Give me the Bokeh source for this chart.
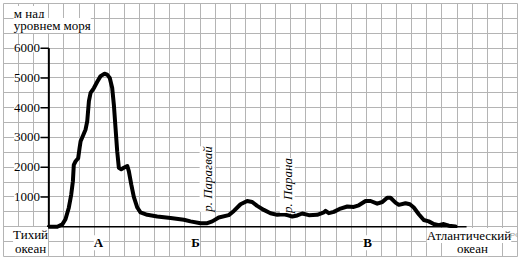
from bokeh.plotting import figure
from bokeh.models import Range1d, FixedTicker, Label, ColumnDataSource
from bokeh.embed import file_html
from bokeh.resources import INLINE

# profile: distance (grid cells from the axis) and height (m above sea level)
dist = [0.00, 0.56, 0.89, 1.10, 1.32, 1.48, 1.59, 1.65, 1.77, 1.94, 2.03, 2.10, 2.25, 2.43,
        2.54, 2.65, 2.76, 2.98, 3.20, 3.42, 3.68, 3.86, 4.03, 4.19, 4.30, 4.41, 4.52, 4.63,
        4.79, 4.96, 5.19, 5.29, 5.45, 5.62, 5.85, 6.06, 6.51, 7.17, 8.05, 8.93, 9.37, 10.03,
        10.48, 10.81, 11.24, 11.90, 12.24, 12.68, 13.12, 13.45, 13.78, 14.22, 14.66, 15.11,
        15.54, 15.77, 16.10, 16.43, 16.76, 17.20, 17.75, 18.19, 18.30, 18.52, 18.85, 19.29,
        19.74, 20.17, 20.50, 20.95, 21.28, 21.72, 22.06, 22.38, 22.60, 22.93, 23.15, 23.59,
        23.88, 24.14, 24.47, 24.80, 25.13, 25.46, 25.79, 26.12, 26.46, 26.90]
height = [0, 0, 80, 250, 640, 1080, 1530, 2080, 2200, 2300, 2640, 2870, 3050, 3270,
          3550, 4220, 4500, 4660, 4870, 5060, 5140, 5110, 5000, 4660, 4100, 3320, 2540, 1980,
          1930, 1980, 2040, 1870, 1420, 1000, 645, 480, 400, 345, 290, 235, 180, 120,
          120, 180, 310, 390, 530, 755, 865, 830, 700, 565, 455, 400,
          420, 390, 345, 380, 445, 390, 400, 480, 535, 455, 500, 610,
          680, 665, 720, 865, 865, 775, 830, 975, 975, 810, 735, 790,
          755, 645, 420, 225, 180, 90, 55, 90, 35, 10]

tick_values = [1000, 2000, 3000, 4000, 5000, 6000]
tick_labels = ["1000", "2000", "3000", "4000", "5000", "6000"]

region_labels = ["А", "Б", "В"]
region_x = [3.28, 9.70, 21.08]

river_labels = ["р. Парагвай", "р. Парана"]
river_x = [10.47, 15.77]
river_y = [1603, 1385]

baseline_end = 27.63

p = figure(width=523, height=262, output_backend="svg", toolbar_location=None,
           x_range=Range1d(-3, 31), y_range=Range1d(-1000, 7500),
           min_border_left=3, min_border_right=6, min_border_top=3, min_border_bottom=6)
p.axis.visible = False
p.background_fill_color = "white"
p.border_fill_color = "white"
p.outline_line_color = "#b4b4b4"
p.outline_line_width = 1
p.xgrid.ticker = FixedTicker(ticks=list(range(-3, 32)))
p.ygrid.ticker = FixedTicker(ticks=list(range(-1000, 7501, 500)))
for g in (p.xgrid, p.ygrid):
    g.grid_line_color = "#b4b4b4"
    g.grid_line_width = 1
    g.grid_line_alpha = 1.0

# axes drawn by hand
p.segment(x0=[0], y0=[0], x1=[0], y1=[tick_values[-1]], line_color="black", line_width=2)
p.segment(x0=[0], y0=[0], x1=[baseline_end], y1=[0], line_color="black", line_width=1.5)
p.segment(x0=[-0.55] * len(tick_values), y0=tick_values, x1=[0] * len(tick_values),
          y1=tick_values, line_color="black", line_width=1.5)

serif = "Liberation Serif"

def lab(x, y, text, size="13px", align="left", style="normal", color="black",
        font=serif, angle=0, bg="white"):
    p.add_layout(Label(x=x, y=y, text=text, text_font=font, text_font_size=size,
                       text_align=align, text_baseline="middle", text_font_style=style,
                       text_color=color, angle=angle, background_fill_color=bg))

for v, t in zip(tick_values, tick_labels):
    lab(-0.58, v, t, align="right")

lab(-2.32, 7164, "м над")
lab(-2.32, 6761, "уровнем моря")
lab(-1.21, -262, "Тихий", align="center")
lab(-1.21, -742, "океан", align="center")
lab(27.79, -295, "Атлантический", align="center")
lab(28.02, -742, "океан", align="center")
lab(30.34, -295, ".РФ", size="8px", color="#9a9a9a", font="Liberation Sans", bg=None)

for x, t in zip(region_x, region_labels):
    lab(x, -540, t, align="center", style="bold")

for x, y, t in zip(river_x, river_y, river_labels):
    lab(x, y, t, align="center", style="italic", angle=1.5708)

src = ColumnDataSource(dict(x=dist, y=height))
p.line("x", "y", source=src, line_color="black", line_width=4,
       line_join="round", line_cap="round")

open("out.html", "w").write(file_html(p, INLINE))
